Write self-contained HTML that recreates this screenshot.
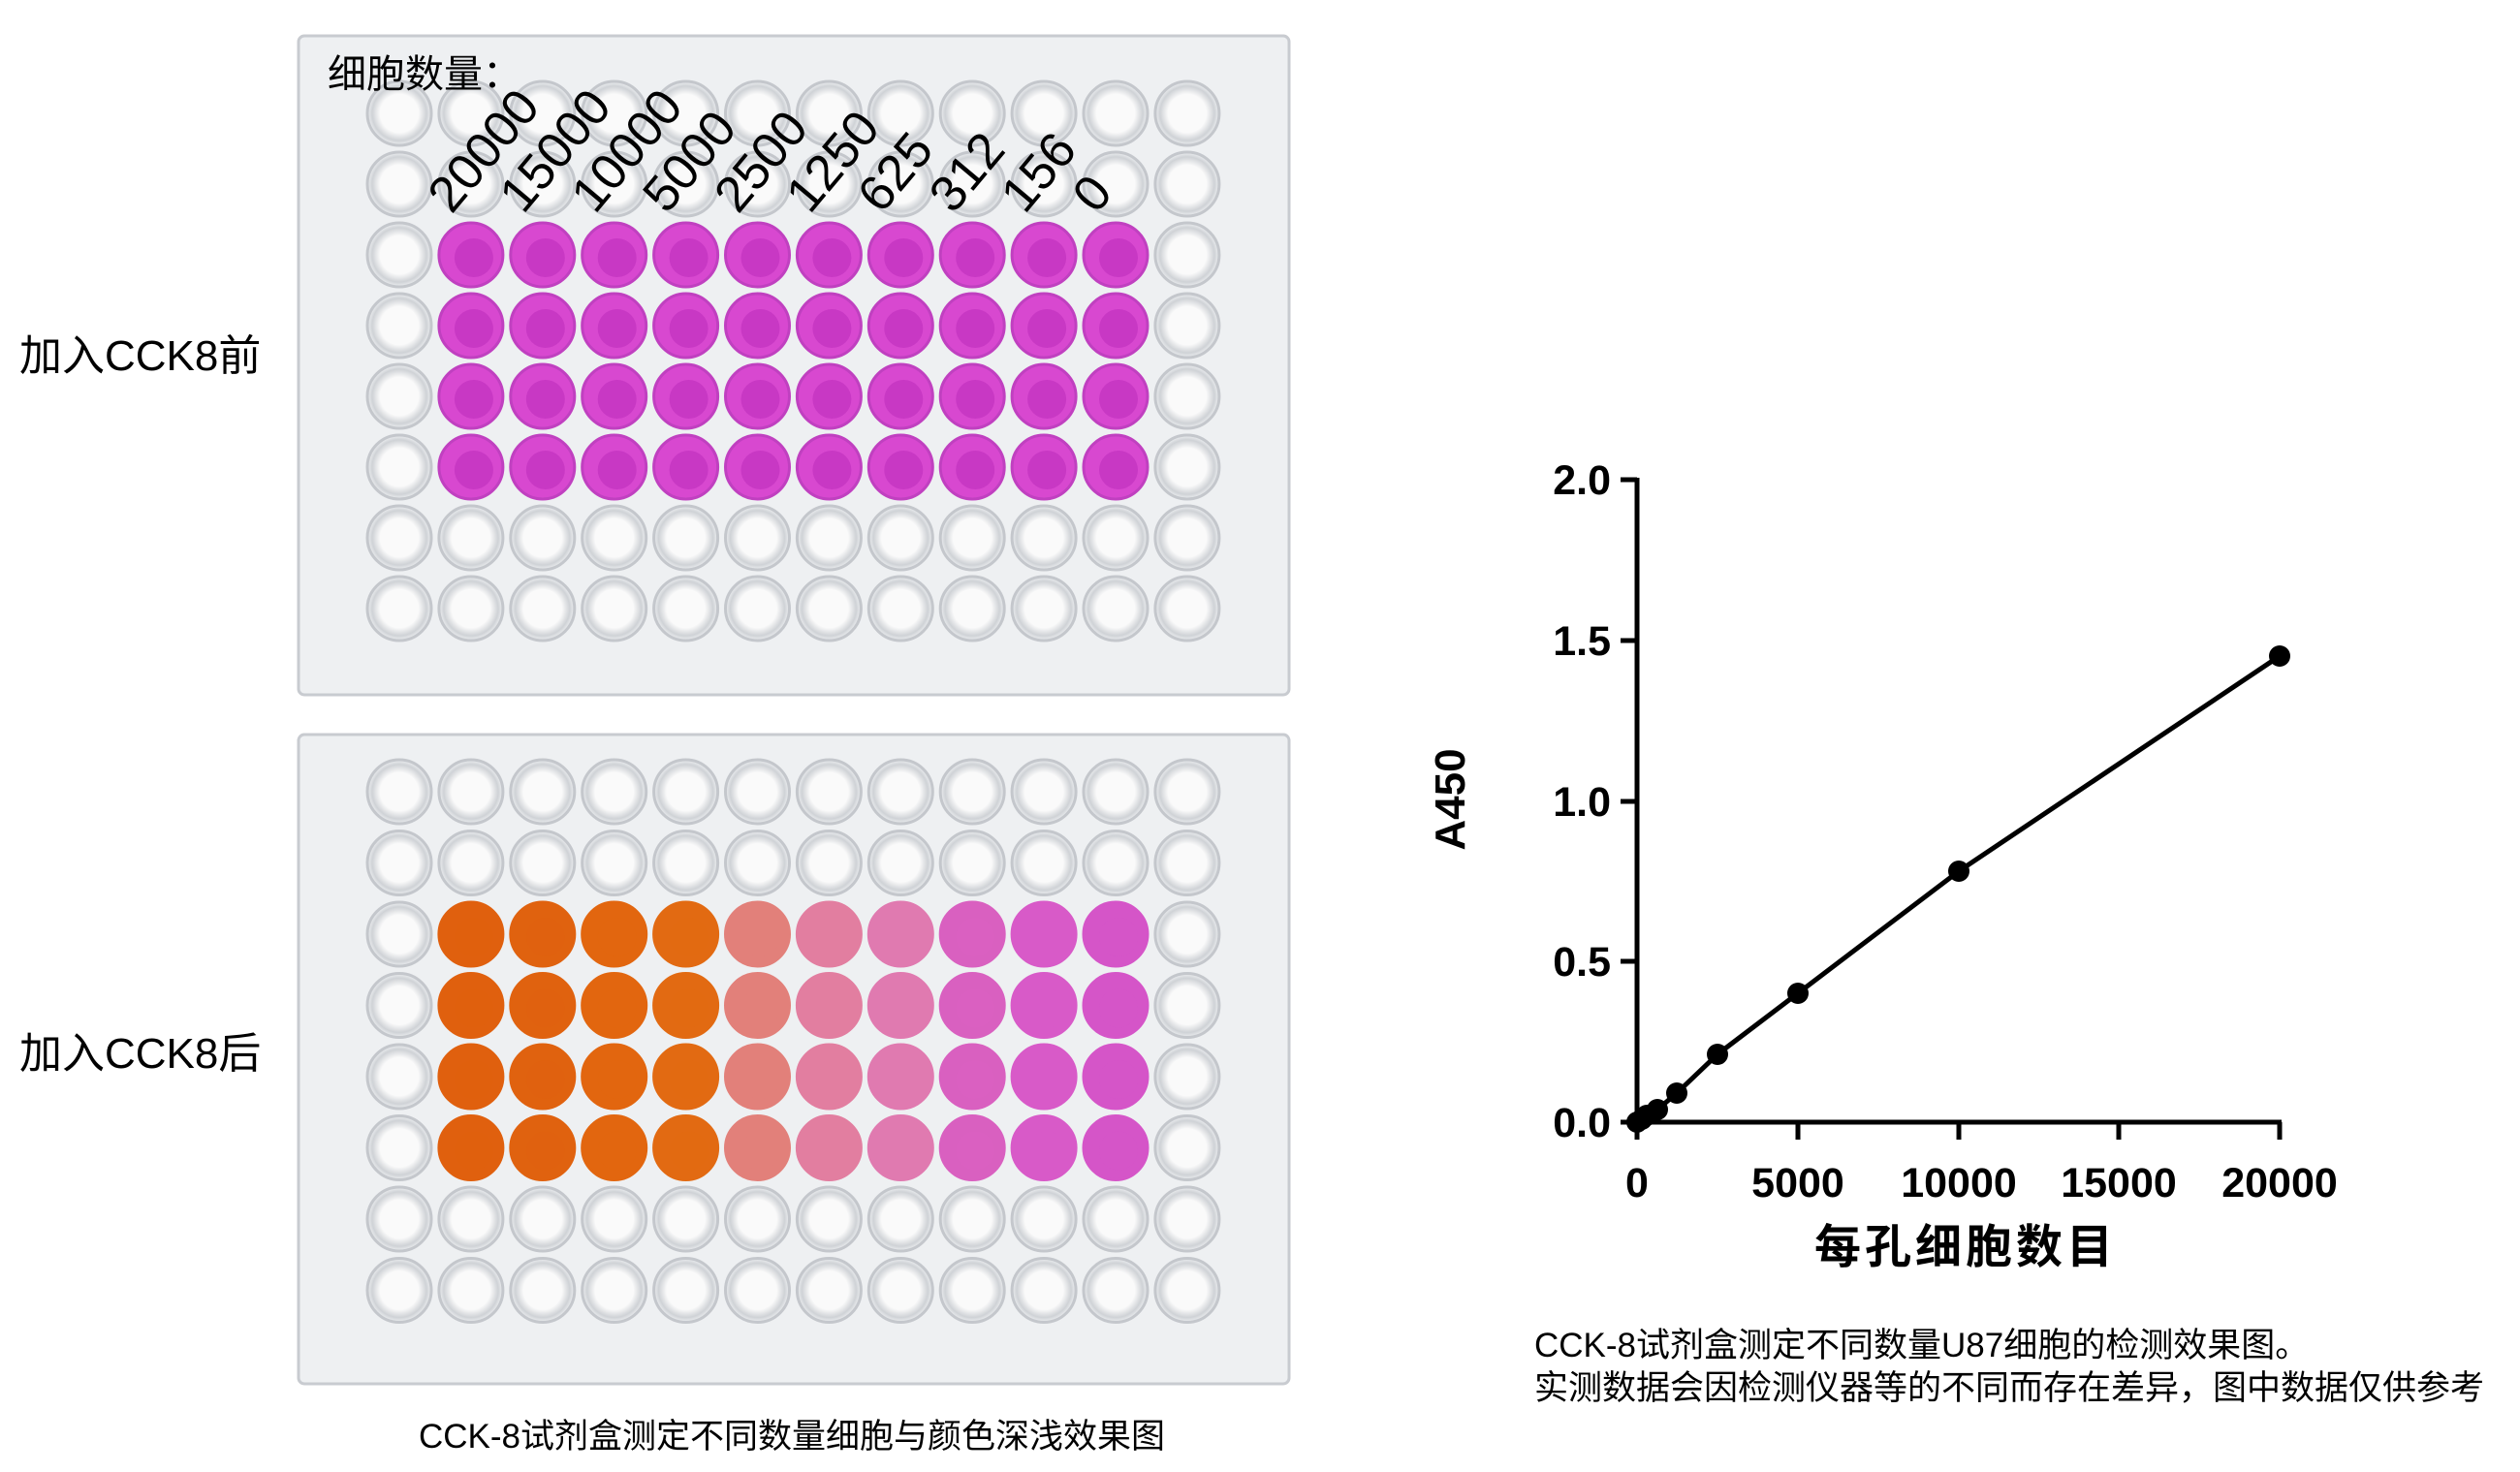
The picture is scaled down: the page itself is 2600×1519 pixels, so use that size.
<!DOCTYPE html>
<html><head><meta charset="utf-8"><style>
body{margin:0;background:#fff;width:2600px;height:1514px;overflow:hidden;font-family:"Liberation Sans","Noto Sans CJK SC",sans-serif}
</style></head><body>
<svg id="s" width="2600" height="1514" xmlns="http://www.w3.org/2000/svg" font-family="Liberation Sans, Noto Sans CJK SC, sans-serif">
<defs>
<radialGradient id="gw" cx="0.5" cy="0.5" r="0.5"><stop offset="0.6" stop-color="#fafafa"/><stop offset="0.85" stop-color="#cfd2d6"/><stop offset="1" stop-color="#eef0f2"/></radialGradient>
</defs>
<rect x="308" y="37" width="1022" height="680" fill="#eef0f2" stroke="#c8cbd0" stroke-width="3" rx="6"/>
<rect x="308" y="758" width="1022" height="670" fill="#eef0f2" stroke="#c8cbd0" stroke-width="3" rx="6"/>
<g id="w1"></g><g id="w2"></g>
<text x="20" y="382" font-size="44">加入CCK8前</text>
<text x="20" y="1102" font-size="44">加入CCK8后</text>
<text x="338" y="90" font-size="40">细胞数量：</text>
<g id="lbl" font-size="52"></g>
<text x="817" y="1494" font-size="35" text-anchor="middle">CCK-8试剂盒测定不同数量细胞与颜色深浅效果图</text>
<!-- chart -->
<g stroke="#000" stroke-width="5" fill="none">
<line x1="1689" y1="493" x2="1689" y2="1160"/>
<line x1="1686" y1="1158" x2="2354" y2="1158"/>
<line x1="1672" y1="495" x2="1689" y2="495"/>
<line x1="1672" y1="661" x2="1689" y2="661"/>
<line x1="1672" y1="827" x2="1689" y2="827"/>
<line x1="1672" y1="992" x2="1689" y2="992"/>
<line x1="1672" y1="1158" x2="1689" y2="1158"/>
<line x1="1855" y1="1158" x2="1855" y2="1176"/>
<line x1="2021" y1="1158" x2="2021" y2="1176"/>
<line x1="2186" y1="1158" x2="2186" y2="1176"/>
<line x1="2352" y1="1158" x2="2352" y2="1176"/>
<line x1="1689" y1="1176" x2="1689" y2="1158"/>
<polyline points="1689,1158 1694,1155 1699,1151 1710,1145 1730,1128 1772,1088 1855,1025 2021,899 2352,677"/>
</g>
<g fill="#000">
<circle cx="1689" cy="1158" r="11"/><circle cx="1694" cy="1155" r="11"/><circle cx="1699" cy="1151" r="11"/><circle cx="1710" cy="1145" r="11"/><circle cx="1730" cy="1128" r="11"/><circle cx="1772" cy="1088" r="11"/><circle cx="1855" cy="1025" r="11"/><circle cx="2021" cy="899" r="11"/><circle cx="2352" cy="677" r="11"/>
</g>
<g font-size="43" font-weight="bold" text-anchor="end">
<text x="1662" y="510">2.0</text><text x="1662" y="676">1.5</text><text x="1662" y="842">1.0</text><text x="1662" y="1007">0.5</text><text x="1662" y="1173">0.0</text>
</g>
<g font-size="43" font-weight="bold" text-anchor="middle">
<text x="1689" y="1235">0</text><text x="1855" y="1235">5000</text><text x="2021" y="1235">10000</text><text x="2186" y="1235">15000</text><text x="2352" y="1235">20000</text>
</g>
<text transform="translate(1511,825) rotate(-90)" font-size="44" font-weight="bold" text-anchor="middle">A450</text>
<text x="2028" y="1303" font-size="48" font-weight="bold" text-anchor="middle" letter-spacing="4">每孔细胞数目</text>
<text x="1583" y="1400" font-size="35">CCK-8试剂盒测定不同数量U87细胞的检测效果图。</text>
<text x="1583" y="1444" font-size="35">实测数据会因检测仪器等的不同而存在差异，图中数据仅供参考</text>
</svg>
<script>
var NS="http://www.w3.org/2000/svg";
function el(p,t,a){var e=document.createElementNS(NS,t);for(var k in a)e.setAttribute(k,a[k]);p.appendChild(e);return e;}
var cx=function(c){return 412+c*73.9;};
var w1=document.getElementById('w1'),w2=document.getElementById('w2');
var after=['#e0600e','#e0620f','#e2660f','#e26a12','#e2807a','#e27ea0','#e07ab0','#d960c0','#d85ac8','#d555c8'];
for(var r=0;r<8;r++)for(var c=0;c<12;c++){
  var y1=117+r*73,y2=817+r*73.5;
  var col=(c>=1&&c<=10&&r>=2&&r<=5);
  el(w1,'circle',{cx:cx(c),cy:y1,r:33,fill:col?'#d848d0':'url(#gw)',stroke:col?'#c040c0':'#c4c7cc','stroke-width':3});
  if(col)el(w1,'circle',{cx:cx(c)+3,cy:y1+3,r:20,fill:'#c838c4'});
  el(w2,'circle',{cx:cx(c),cy:y2,r:33,fill:col?after[c-1]:'url(#gw)',stroke:col?after[c-1]:'#c4c7cc','stroke-width':3});
  if(col)el(w2,'circle',{cx:cx(c)+3,cy:y2+3,r:20,fill:after[c-1],opacity:0.8});
}
var L=['20000','15000','10000','5000','2500','1250','625','312','156','0'];
var g=document.getElementById('lbl');
for(var i=0;i<10;i++){var x=cx(i+1)-20,y=222;var t=el(g,'text',{transform:'translate('+x+','+y+') rotate(-50)'});t.textContent=L[i];}
</script>
</body></html>
